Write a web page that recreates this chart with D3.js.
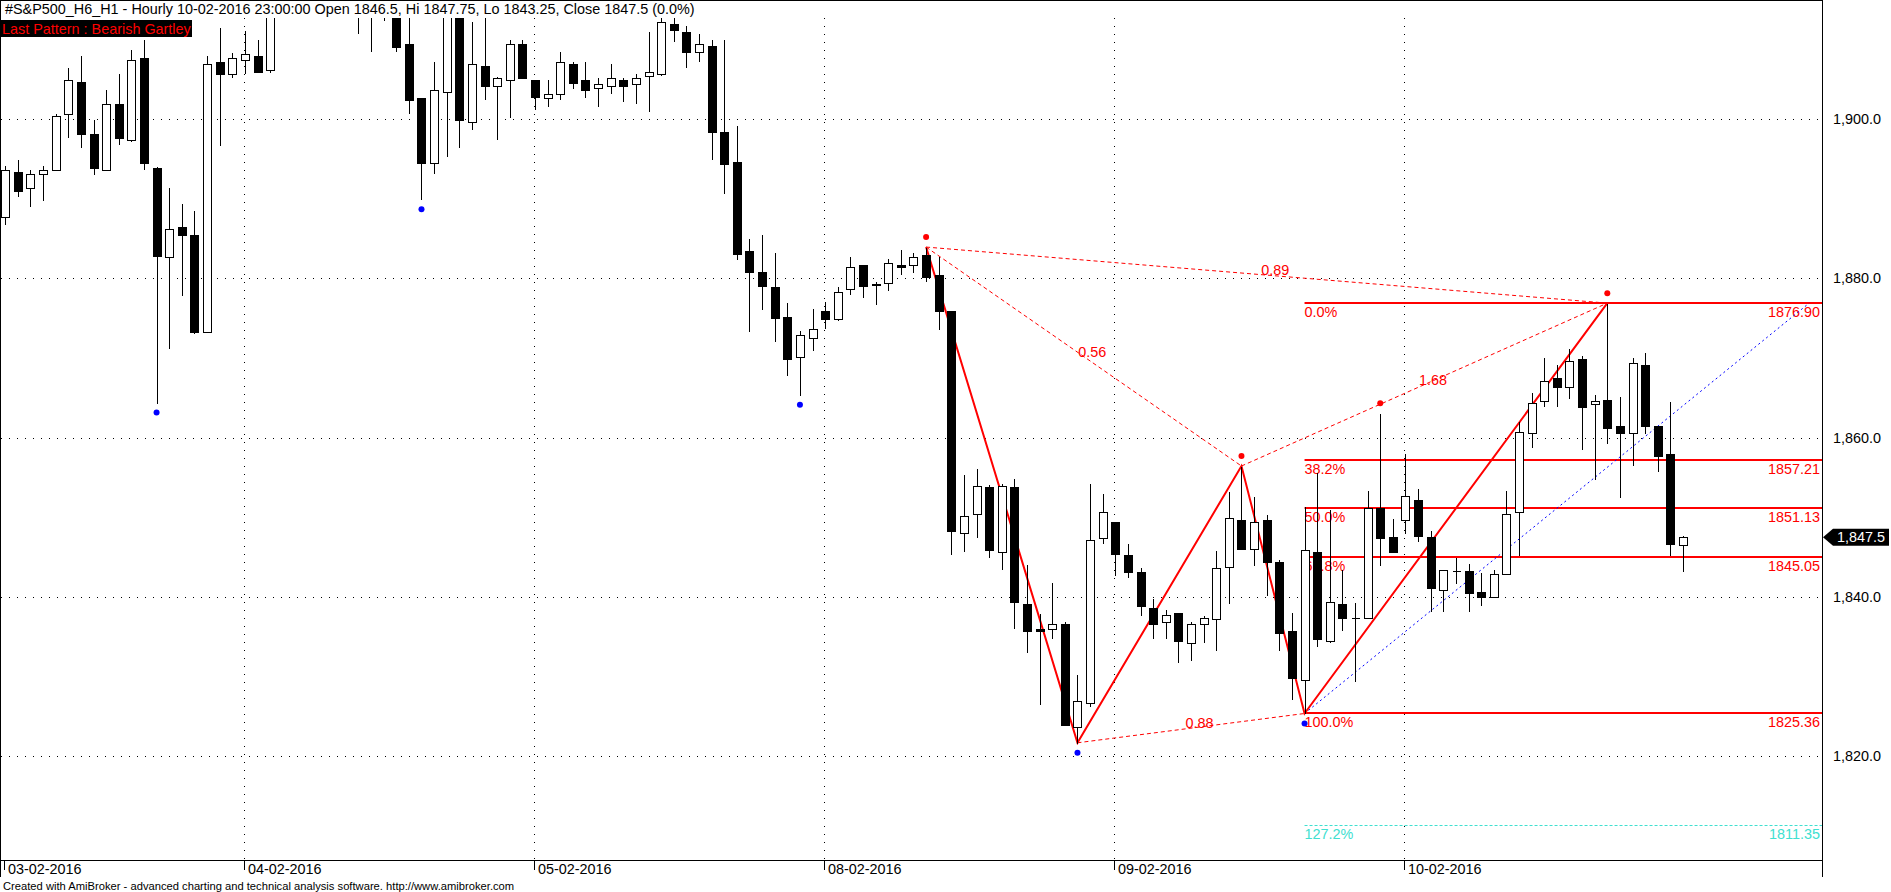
<!DOCTYPE html>
<html><head><meta charset="utf-8">
<script src="https://cdn.jsdelivr.net/npm/d3@7"></script>
<style>
html,body{margin:0;padding:0;background:#fff;}
svg{display:block;font-family:"Liberation Sans",Arial,sans-serif;}
</style></head><body>
<svg id="c" width="1891" height="892"></svg>
<script>
// ---------------- data ----------------
const symbolTitle = "#S&P500_H6_H1 - Hourly 10-02-2016 23:00:00";
const days = ["03-02-2016","04-02-2016","05-02-2016","08-02-2016","09-02-2016","10-02-2016"];
const barsPerDay = [19,23,23,23,23,23];
// hourly OHLC (bars 21-31, 35-38 partly above the visible price range: estimated)
const open = [1887.70,1893.35,1891.34,1893.10,1893.56,1900.64,1904.70,1898.12,1893.56,1901.89,
1897.37,1907.67,1893.86,1882.68,1886.44,1885.44,1873.32,1907.21,1905.62,1907.42,
1907.92,1906.13,1916.75,1917.50,1918.25,1916.00,1917.75,1916.50,1915.25,1914.00,
1915.50,1914.25,1909.47,1902.65,1894.56,1903.40,1914.00,1899.63,1906.67,1904.11,
1904.91,1909.43,1904.91,1902.65,1903.15,1906.92,1904.91,1903.90,1904.15,1904.91,
1904.41,1905.41,1905.66,1911.94,1910.94,1908.42,1909.17,1898.38,1894.61,1883.47,
1880.87,1878.94,1875.18,1870.11,1872.58,1875.93,1874.89,1878.66,1881.67,1879.25,
1879.41,1881.71,1881.67,1882.98,1880.48,1875.96,1847.98,1850.43,1853.75,1845.67,
1853.75,1839.13,1836.01,1836.01,1836.63,1823.70,1826.68,1847.45,1849.47,1845.24,
1843.17,1838.65,1836.87,1837.93,1834.23,1836.63,1837.21,1843.70,1849.71,1845.96,
1849.71,1844.42,1835.77,1829.52,1845.67,1834.52,1839.13,1837.40,1837.40,1851.11,
1847.50,1849.71,1852.21,1847.50,1840.87,1843.22,1843.22,1840.67,1839.95,1842.93,
1850.72,1860.53,1864.66,1867.45,1866.39,1869.90,1864.18,1864.71,1861.49,1860.53,
1869.18,1861.49,1857.98,1846.5];
const high = [1894.28,1894.98,1893.77,1894.28,1900.76,1906.58,1908.09,1900.05,1903.82,1905.83,
1908.84,1910.10,1894.07,1891.50,1889.53,1888.62,1908.09,1911.61,1908.38,1911.23,
1910.10,1917.50,1919.00,1920.25,1919.50,1918.75,1919.25,1918.00,1916.75,1916.25,
1917.00,1915.75,1913.50,1902.80,1907.34,1915.00,1914.75,1912.36,1913.25,1905.37,
1910.10,1910.10,1904.91,1905.08,1908.59,1907.34,1907.34,1905.33,1907.08,1905.33,
1905.83,1911.11,1913.00,1912.90,1911.86,1910.86,1910.02,1910.10,1899.30,1885.06,
1885.64,1883.38,1877.10,1873.54,1876.35,1877.19,1879.11,1882.85,1881.79,1879.62,
1882.63,1883.64,1883.30,1883.94,1882.84,1876.00,1855.38,1856.15,1854.18,1854.33,
1854.90,1844.09,1838.03,1841.83,1837.02,1830.34,1854.37,1853.08,1849.47,1846.83,
1843.80,1839.81,1838.51,1837.93,1837.02,1837.79,1845.87,1853.32,1856.44,1852.64,
1850.43,1844.76,1838.08,1851.39,1855.72,1851.01,1843.56,1839.33,1853.41,1863.08,
1849.90,1858.12,1853.65,1848.37,1843.41,1845.00,1844.28,1843.08,1843.56,1853.41,
1862.07,1865.77,1870.10,1869.28,1871.30,1870.34,1865.53,1876.90,1865.29,1870.10,
1870.82,1861.59,1864.57,1847.75];
const low = [1886.82,1890.35,1889.09,1889.87,1893.56,1897.71,1896.45,1893.18,1893.56,1896.90,
1897.20,1893.69,1864.41,1871.24,1877.98,1873.19,1873.25,1896.70,1905.24,1905.75,
1905.87,1905.90,1914.50,1915.75,1915.00,1914.25,1915.50,1913.75,1910.81,1908.51,
1912.50,1908.51,1900.76,1889.96,1893.22,1895.44,1896.49,1898.71,1902.52,1897.50,
1900.26,1905.12,1901.26,1901.67,1902.52,1903.98,1902.73,1901.71,1903.24,1902.23,
1901.98,1900.97,1905.49,1909.77,1906.50,1907.26,1894.94,1890.67,1882.50,1873.46,
1876.22,1872.20,1867.93,1865.38,1870.99,1873.75,1874.72,1877.99,1877.73,1876.77,
1878.53,1880.50,1880.80,1879.62,1873.61,1845.34,1845.82,1847.55,1845.00,1843.51,
1836.11,1833.08,1826.54,1834.81,1823.89,1821.68,1826.25,1846.78,1842.74,1842.50,
1837.69,1834.81,1834.81,1831.83,1832.07,1834.33,1833.37,1839.28,1845.96,1844.04,
1840.29,1833.37,1827.12,1825.36,1833.89,1834.28,1835.87,1829.42,1837.40,1844.04,
1845.62,1848.03,1847.02,1838.27,1838.27,1841.78,1838.27,1839.04,1839.95,1842.93,
1845.24,1858.80,1863.94,1863.99,1865.00,1858.61,1854.86,1859.33,1852.60,1856.63,
1860.53,1855.82,1845.24,1843.25];
const close = [1893.56,1891.04,1893.10,1893.56,1900.39,1904.91,1898.08,1893.81,1901.89,1897.58,
1907.42,1894.56,1882.88,1886.19,1885.40,1873.32,1906.92,1905.62,1907.67,1908.17,
1905.87,1916.75,1917.50,1918.25,1916.00,1917.75,1916.50,1915.25,1914.00,1915.50,
1914.25,1909.13,1902.35,1894.56,1903.66,1914.00,1899.84,1906.92,1904.11,1905.16,
1909.43,1905.12,1902.85,1903.15,1907.17,1904.60,1903.66,1904.36,1905.12,1904.15,
1905.12,1905.91,1912.19,1911.15,1908.42,1909.43,1898.33,1894.32,1883.13,1880.87,
1879.11,1875.09,1869.82,1872.87,1873.62,1874.89,1878.36,1881.46,1879.11,1879.20,
1881.92,1881.42,1882.72,1880.19,1875.91,1848.22,1850.19,1853.99,1845.91,1853.99,
1839.37,1835.72,1835.72,1836.63,1823.89,1826.97,1847.16,1850.72,1845.38,1843.17,
1838.89,1836.59,1837.69,1834.52,1836.63,1837.36,1843.65,1849.95,1845.96,1849.47,
1844.38,1835.48,1829.76,1845.87,1834.71,1839.37,1837.40,1837.40,1851.11,1847.40,
1845.62,1852.69,1847.64,1841.06,1843.41,1843.22,1840.48,1839.95,1842.93,1850.43,
1860.77,1864.37,1867.16,1866.39,1869.66,1863.85,1864.62,1861.25,1860.53,1869.42,
1861.49,1857.74,1846.68,1847.5];

const priceTicks = [1820,1840,1860,1880,1900];
const swingHighBars = [73,98,109,127];
const swingLowBars  = [12,33,63,85,103];
// Gartley points X,A,B,C,D : bar index + price
const patternNames = ["X","A","B","C","D"];
const patternBars  = [73,85,98,103,127];
const patternPrices= [1883.94,1821.68,1856.44,1825.36,1876.90];
const ratioLabels = ["0.56","0.88","1.68","0.89"];      // XB, AC, BD, XD
const ratioPairs  = [[0,2],[1,3],[2,4],[0,4]];
const fibLabels = ["0.0%","38.2%","50.0%","61.8%","100.0%"];
const fibValues = [1876.90,1857.21,1851.13,1845.05,1825.36];
const extLabel = "127.2%", extValue = 1811.35;
const projEnd = {bar:143, price:1876.90};
const patternTitle = "Last Pattern : Bearish Gartley";
const footer = "Created with AmiBroker - advanced charting and technical analysis software. http://www.amibroker.com";

// ---------------- layout ----------------
const W=1891,H=892;
const plotL=0, plotR=1822, plotT=18, plotB=860;
const n = open.length;
const svg = d3.select("#c");
const x = d3.scaleLinear().domain([0,n-1]).range([5.2, 5.2+12.615*(n-1)]);
const y = d3.scaleLinear().domain([1806.96,1912.71]).range([plotB,plotT]);
const RED="#ff0000", BLUE="#0000ff", CYAN="#40e0d0";
const FS=14.4;

svg.append("defs").append("clipPath").attr("id","clip")
  .append("rect").attr("x",plotL).attr("y",plotT).attr("width",plotR-plotL).attr("height",plotB-plotT);

// day starts
const dayStart=[]; {let s=0; barsPerDay.forEach(c=>{dayStart.push(s); s+=c;});}

const grid = svg.append("g");
priceTicks.forEach(v=>{
  const yy=Math.round(y(v))+0.5;
  grid.append("line").attr("x1",1).attr("x2",plotR).attr("y1",yy).attr("y2",yy)
    .attr("stroke","#000").attr("stroke-dasharray","1,7");
});
dayStart.slice(1).forEach(i=>{
  const xx=Math.round(x(i)-1)+0.5;
  grid.append("line").attr("x1",xx).attr("x2",xx).attr("y1",plotT).attr("y2",plotB)
    .attr("stroke","#000").attr("stroke-dasharray","1,7");
});

const plot = svg.append("g").attr("clip-path","url(#clip)");
const P = i=>[x(patternBars[i]), y(patternPrices[i])];

// fib levels
const cx0 = x(patternBars[3]);
const fibG = plot.append("g");
fibValues.forEach((v,k)=>{
  const yy=Math.round(y(v));
  fibG.append("line").attr("x1",cx0).attr("x2",plotR).attr("y1",yy).attr("y2",yy)
    .attr("stroke",RED).attr("stroke-width",2);
  fibG.append("text").attr("x",cx0).attr("y",yy+14).attr("fill",RED).attr("font-size",FS).text(fibLabels[k]);
  fibG.append("text").attr("x",plotR-2).attr("y",yy+14).attr("fill",RED).attr("font-size",FS)
    .attr("text-anchor","end").text(v.toFixed(2));
});
{
  const yy=Math.round(y(extValue))+0.5;
  fibG.append("line").attr("x1",cx0).attr("x2",plotR).attr("y1",yy).attr("y2",yy)
    .attr("stroke",CYAN).attr("stroke-dasharray","3,2");
  fibG.append("text").attr("x",cx0).attr("y",yy+13.5).attr("fill",CYAN).attr("font-size",FS).text(extLabel);
  fibG.append("text").attr("x",plotR-2).attr("y",yy+13.5).attr("fill",CYAN).attr("font-size",FS)
    .attr("text-anchor","end").text(extValue.toFixed(2));
}

// projection dotted blue
plot.append("line").attr("x1",P(3)[0]).attr("y1",P(3)[1]).attr("x2",x(projEnd.bar)).attr("y2",y(projEnd.price))
  .attr("stroke",BLUE).attr("stroke-dasharray","2,3");

// dashed ratio lines + labels
ratioPairs.forEach((pr,k)=>{
  const a=P(pr[0]), b=P(pr[1]);
  plot.append("line").attr("x1",a[0]).attr("y1",a[1]).attr("x2",b[0]).attr("y2",b[1])
    .attr("stroke",RED).attr("stroke-dasharray","4,3");
  const mx=(a[0]+b[0])/2, my=(a[1]+b[1])/2;
  plot.append("text").attr("x",mx-5.5).attr("y",my).attr("fill",RED).attr("font-size",FS).text(ratioLabels[k]);
});
// solid XABCD
plot.append("path").attr("d",d3.line()(patternBars.map((b,i)=>P(i))))
  .attr("fill","none").attr("stroke",RED).attr("stroke-width",2);

// swing dots
swingHighBars.forEach(i=>plot.append("circle").attr("cx",x(i)).attr("cy",y(high[i])-10).attr("r",3).attr("fill",RED));
swingLowBars.forEach(i=>plot.append("circle").attr("cx",x(i)).attr("cy",y(low[i])+10).attr("r",3).attr("fill",BLUE));

// candles
const cg = plot.append("g").attr("shape-rendering","crispEdges");
d3.range(n).forEach(i=>{
  const c=Math.round(x(i));
  const yh=Math.round(y(high[i]))+0.5, yl=Math.round(y(low[i]))+0.5;
  const yo=Math.round(y(open[i]))+0.5, yc=Math.round(y(close[i]))+0.5;
  cg.append("line").attr("x1",c+0.5).attr("x2",c+0.5).attr("y1",yh).attr("y2",yl).attr("stroke","#000");
  const up = close[i]>=open[i];
  const t=Math.min(yo,yc), b=Math.max(yo,yc);
  cg.append("path").attr("d",`M${c-3.5},${t}H${c+4.5}V${b}H${c-3.5}Z`)
    .attr("fill",up?"#fff":"#000").attr("stroke","#000");
});

// frame & axes
const fr = svg.append("g").attr("stroke","#000").attr("shape-rendering","crispEdges");
fr.append("line").attr("x1",0.5).attr("x2",0.5).attr("y1",0).attr("y2",877);
fr.append("line").attr("x1",plotR+0.5).attr("x2",plotR+0.5).attr("y1",0).attr("y2",877);
fr.append("line").attr("x1",0).attr("x2",plotR).attr("y1",0.5).attr("y2",0.5);
fr.append("line").attr("x1",0).attr("x2",plotR).attr("y1",plotB+0.5).attr("y2",plotB+0.5);

// x axis date ticks
dayStart.forEach((i,k)=>{
  const xx=Math.max(Math.round(x(i)-1),4)+0.5;
  fr.append("line").attr("x1",xx).attr("x2",xx).attr("y1",plotB).attr("y2",plotB+10);
  svg.append("text").attr("x",xx+3.5).attr("y",874).attr("font-size",FS).attr("fill","#000").text(days[k]);
});

// y axis labels
const fmt=d3.format(",.1f");
priceTicks.forEach(v=>{
  svg.append("text").attr("x",1833).attr("y",y(v)+5).attr("font-size",FS).attr("fill","#000").text(fmt(v));
});
// last price tag
{
  const yy=y(close[n-1]);
  svg.append("path").attr("d",`M1823,${yy}L1833,${yy-8.5}H1889V${yy+8.5}H1833Z`).attr("fill","#000");
  svg.append("text").attr("x",1837).attr("y",yy+5.2).attr("font-size",FS).attr("fill","#fff").text(fmt(close[n-1]));
}

// titles
const last=n-1;
svg.append("text").attr("x",5).attr("y",14).attr("font-size",FS).attr("fill","#000")
  .text(`${symbolTitle} Open ${open[last]}, Hi ${high[last]}, Lo ${low[last]}, Close ${close[last]} (0.0%)`);
svg.append("rect").attr("x",0).attr("y",20).attr("width",192).attr("height",17).attr("fill","#000");
svg.append("text").attr("x",2).attr("y",33.5).attr("font-size",FS).attr("fill",RED).text(patternTitle);
svg.append("text").attr("x",3).attr("y",890).attr("font-size",11.2).attr("fill","#000").text(footer);
</script>
</body></html>
